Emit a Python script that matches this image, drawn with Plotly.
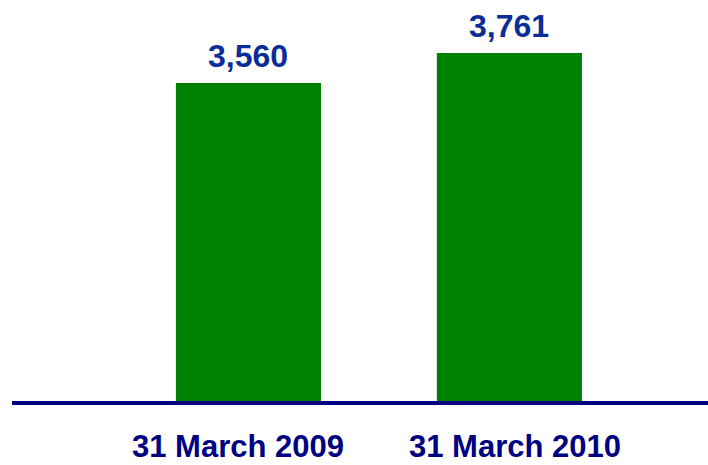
import plotly.graph_objects as go

categories = ["31 March 2009", "31 March 2010"]
values = [3560, 3761]
value_labels = [f"{v:,}" for v in values]

bar_color = "#008000"
value_color = "#0B2D98"
cat_color = "#000080"
font_family = "Liberation Sans, Arial, sans-serif"

fig = go.Figure()
fig.add_trace(go.Bar(
    x=[0, 1], y=values, width=0.556,
    marker=dict(color=bar_color, line=dict(width=0)),
    hoverinfo="skip",
))

# value labels above bars
for i, (v, t) in enumerate(zip(values, value_labels)):
    fig.add_annotation(x=i, y=v, xref="x", yref="y", text=f"<b>{t}</b>",
                       showarrow=False, yanchor="bottom", yshift=8, borderpad=0,
                       font=dict(size=32, color=value_color, family=font_family))

# category labels below axis
cat_shifts = [-10, 6]
for i, (c, s) in enumerate(zip(categories, cat_shifts)):
    fig.add_annotation(x=i, y=0, xref="x", yref="paper", text=f"<b>{c}</b>",
                       showarrow=False, yanchor="top", yshift=-27, xshift=s,
                       borderpad=0,
                       font=dict(size=31, color=cat_color, family=font_family))

fig.update_layout(
    width=708, height=465,
    margin=dict(l=12, r=0, t=0, b=64),
    paper_bgcolor="white", plot_bgcolor="white",
    showlegend=False,
    hovermode=False,
    xaxis=dict(range=[-0.906, 1.761], showticklabels=False, showgrid=False,
               zeroline=False, showline=True, linewidth=4, linecolor=cat_color,
               ticks="", fixedrange=True),
    yaxis=dict(range=[1429, 4116], visible=False, showgrid=False, zeroline=False,
               fixedrange=True),
)

fig.write_html("out.html", config={"displayModeBar": False, "staticPlot": True},
               post_script="document.body.style.margin='0';")
